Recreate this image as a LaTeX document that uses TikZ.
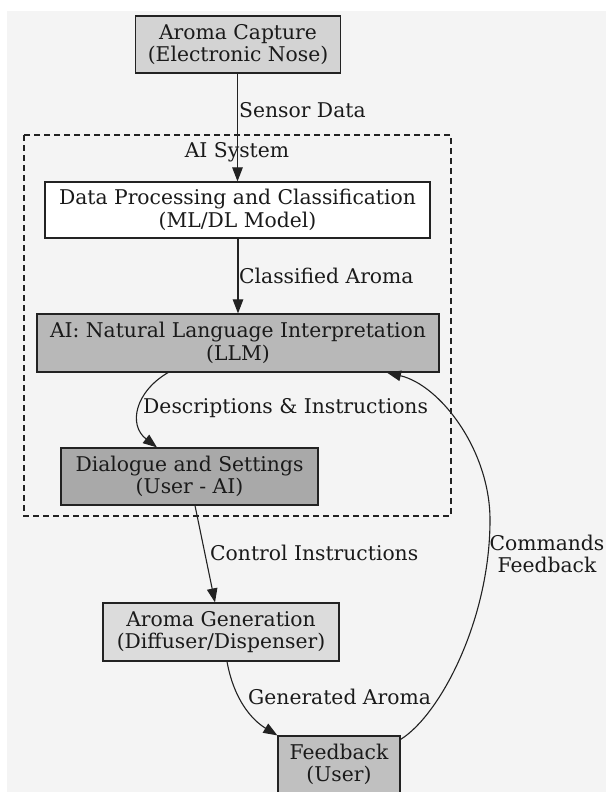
\documentclass[tikz,border=0pt]{standalone}
\usepackage{fontspec}
\setmainfont{DejaVu Serif}
\usetikzlibrary{arrows.meta,calc}
\definecolor{bgc}{HTML}{F4F4F4}
\definecolor{txt}{HTML}{1A1A1A}
\definecolor{edgec}{HTML}{222222}
\definecolor{capfill}{HTML}{D3D3D3}
\definecolor{llmfill}{HTML}{B8B8B8}
\definecolor{diafill}{HTML}{A9A9A9}
\definecolor{genfill}{HTML}{DCDCDC}
\definecolor{fbfill}{HTML}{C0C0C0}
\tikzset{
  box/.style={draw=edgec, line width=1.2pt, inner sep=0pt, align=center, text=txt,
    font=\fontsize{20.3pt}{22.6pt}\selectfont},
  conn/.style={draw=edgec, line width=1.1pt, -{Triangle[length=14pt,width=10.5pt]}},
  lbl/.style={inner sep=0pt, text=txt, align=center, font=\fontsize{20.3pt}{22.6pt}\selectfont},
}
\begin{document}
\begin{tikzpicture}[x=1pt,y=1pt]
\useasboundingbox (0,0) rectangle (606,-792);
\fill[bgc] (7,-11) rectangle (606,-792);
% cluster
\draw[edgec, line width=1.1pt, dash pattern=on 6pt off 4pt] (24,-135) rectangle (451,-516);
\node[lbl] (clus) at (237,-152) {AI System};
% nodes
\node[box, fill=capfill, minimum width=205pt, minimum height=57pt] (cap) at (238,-44.5) {Aroma Capture\\(Electronic Nose)};
\node[box, fill=white, minimum width=385pt, minimum height=56pt] (proc) at (237.5,-210) {Data Processing and Classification\\(ML/DL Model)};
\node[box, fill=llmfill, minimum width=402pt, minimum height=58pt] (llm) at (238,-343) {AI: Natural Language Interpretation\\(LLM)};
\node[box, fill=diafill, minimum width=257pt, minimum height=57pt] (dia) at (189.5,-476.5) {Dialogue and Settings\\(User - AI)};
\node[box, fill=genfill, minimum width=236pt, minimum height=58pt] (gen) at (221,-632) {Aroma Generation\\(Diffuser/Dispenser)};
\node[box, fill=fbfill, minimum width=122pt, minimum height=57pt] (fb) at (339,-764.5) {Feedback\\(User)};
% edges
\draw[conn] (cap.south -| proc.north) -- (proc.north);
\node[lbl, anchor=west] (l1) at (239,-110) {Sensor Data};
\draw[conn] (proc.south -| llm.north) -- (llm.north);
\node[lbl, anchor=west] (l2) at (239,-276) {Classified Aroma};
\draw[conn] ([xshift=-70pt]llm.south) .. controls (135,-392) and (128,-425) .. ([xshift=-32.5pt]dia.north);
\node[lbl, anchor=west] (l3) at (143,-408) {Descriptions \& Instructions};
\draw[conn] ([xshift=5.5pt]dia.south) -- ([xshift=-6pt]gen.north);
\node[lbl, anchor=west] (l4) at (210,-553) {Control Instructions};
\draw[conn] ([xshift=6pt]gen.south) .. controls (234,-700) and (252,-720) .. (fb.north west);
\node[lbl, anchor=west] (l5) at (248,-697) {Generated Aroma};
\draw[conn] ([yshift=-4pt]fb.north east) .. controls (440,-715) and (490,-620) .. (490,-520)
  .. controls (490,-450) and (440,-385) .. ([xshift=149pt]llm.south);
\node[lbl] (l6) at (547,-554) {Commands\\Feedback};
\end{tikzpicture}
\end{document}
